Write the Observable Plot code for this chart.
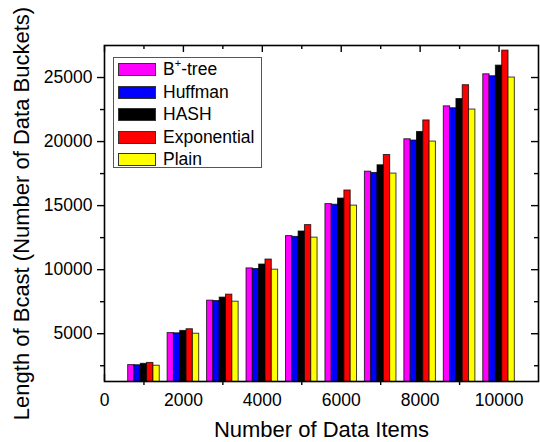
<!DOCTYPE html>
<html><head><meta charset="utf-8">
<script src="https://cdn.jsdelivr.net/npm/d3@7"></script>
<script src="https://cdn.jsdelivr.net/npm/@observablehq/plot@0.6"></script>
<style>
body{margin:0;background:#fff;font-family:"Liberation Sans",Arial,sans-serif;}
#wrap{position:relative;width:540px;height:442px;}
#legend{position:absolute;left:113px;top:57px;width:149px;height:111px;border:1px solid #555;box-sizing:border-box;background:#fff;}
.row{position:absolute;left:4px;height:13px;display:flex;align-items:center;}
.sw{width:38px;height:13px;box-sizing:border-box;border:1px solid #333;margin-right:7px;}
.lab{font-size:17.5px;line-height:13px;color:#000;white-space:nowrap;}
</style></head><body><div id="wrap"></div>
<script>
const dataItems = [1000, 2000, 3000, 4000, 5000, 6000, 7000, 8000, 9000, 10000];
const seriesNames = ["B+-tree", "Huffman", "HASH", "Exponential", "Plain"];
const seriesColors = ["#ff00ff", "#0000ff", "#000000", "#ff0000", "#ffff00"];
const bptree      = [2550, 5050, 7580, 10100, 12620, 15120, 17650, 20180, 22750, 25250];
const huffman     = [2540, 5030, 7550, 10050, 12560, 15070, 17550, 20080, 22600, 25100];
const hash        = [2650, 5220, 7820, 10400, 12980, 15550, 18150, 20750, 23320, 25930];
const exponential = [2720, 5350, 8050, 10790, 13480, 16180, 18950, 21650, 24400, 27100];
const plain       = [2500, 5000, 7500, 10000, 12500, 15000, 17500, 20000, 22500, 25000];
const xMajorTicks = [0, 2000, 4000, 6000, 8000, 10000];
const xMinorTicks = [1000, 3000, 5000, 7000, 9000];
const yMajorTicks = [5000, 10000, 15000, 20000, 25000];
const yMinorTicks = [2500, 7500, 12500, 17500, 22500];
const xDomain = [0, 11000];
const yDomain = [1270, 27500];
const barSpan = 160;

const seriesValues = [bptree, huffman, hash, exponential, plain];
const rows = dataItems.flatMap((n, i) => seriesNames.map((s, j) => ({n, series: s, j, value: seriesValues[j][i]})));

const W = 540, H = 442, mt = 45, mb = 61, ml = 104, mr = 2;
const innerH = H - mt - mb, innerW = W - ml - mr;
const font = '"Liberation Sans", Arial, sans-serif';

const chart = Plot.plot({
  width: W, height: H,
  marginTop: mt, marginBottom: mb, marginLeft: ml, marginRight: mr,
  style: {fontFamily: font, fontSize: "17.5px", color: "#000", background: "#fff"},
  x: {domain: xDomain},
  y: {domain: yDomain},
  color: {domain: seriesNames, range: seriesColors},
  marks: [
    Plot.rectY(rows, {
      x1: d => d.n + (d.j - 2.5) * barSpan,
      x2: d => d.n + (d.j - 1.5) * barSpan,
      y1: 0, y2: "value",
      fill: "series", stroke: "#000", strokeWidth: 1, strokeOpacity: 0.75,
      clip: true
    }),
    Plot.axisX(xMajorTicks, {tickSize: 0, tickPadding: 12, tickFormat: d => String(d), label: null, fontSize: 17.5}),
    Plot.axisX(xMinorTicks, {tickSize: 4, tickFormat: () => "", label: null, strokeWidth: 1.4}),
    Plot.axisY(yMajorTicks, {tickSize: 7, tickPadding: 5, tickFormat: d => String(d), label: null, fontSize: 17.5, strokeWidth: 1.4}),
    Plot.axisY(yMinorTicks, {tickSize: 4, tickFormat: () => "", label: null, strokeWidth: 1.4}),
    Plot.tickX(xMajorTicks, {x: d => d, insetTop: innerH - 7, stroke: "#000", strokeWidth: 1.4}),
    Plot.tickX(xMajorTicks, {x: d => d, insetBottom: innerH - 7, stroke: "#000", strokeWidth: 1.4}),
    Plot.tickX(xMinorTicks, {x: d => d, insetBottom: innerH - 4, stroke: "#000", strokeWidth: 1.4}),
    Plot.tickY(yMajorTicks, {y: d => d, insetLeft: innerW - 7, stroke: "#000", strokeWidth: 1.4}),
    Plot.tickY(yMinorTicks, {y: d => d, insetLeft: innerW - 4, stroke: "#000", strokeWidth: 1.4}),
    Plot.frame({stroke: "#000", strokeWidth: 1.6}),
    Plot.text(["Number of Data Items"], {frameAnchor: "bottom", textAnchor: "middle", lineAnchor: "bottom", dy: 55.5, fontSize: 22, fill: "#000"}),
    Plot.text(["Length of Bcast (Number of Data Buckets)"], {frameAnchor: "left", textAnchor: "middle", lineAnchor: "bottom", rotate: -90, dx: -76, fontSize: 22, fill: "#000"})
  ]
});

const wrap = document.getElementById("wrap");
wrap.appendChild(chart);

const legend = document.createElement("div");
legend.id = "legend";
seriesNames.forEach((name, i) => {
  const row = document.createElement("div");
  row.className = "row";
  row.style.top = (5 + i * 22.6) + "px";
  const sw = document.createElement("div");
  sw.className = "sw";
  sw.style.background = seriesColors[i];
  const lab = document.createElement("span");
  lab.className = "lab";
  if (name.startsWith("B+")) {
    lab.innerHTML = 'B<sup style="font-size:11px;line-height:0;position:relative;top:-1px">+</sup>' + name.slice(2);
  } else {
    lab.textContent = name;
  }
  row.appendChild(sw);
  row.appendChild(lab);
  legend.appendChild(row);
});
wrap.appendChild(legend);
</script>
</body></html>
